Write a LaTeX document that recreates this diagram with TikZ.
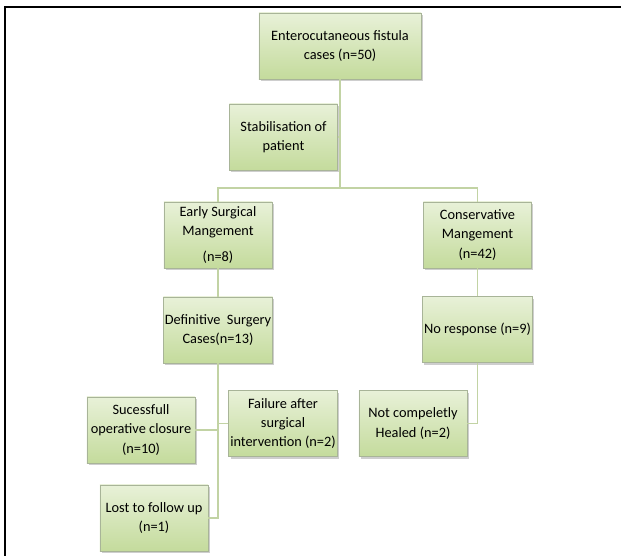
\documentclass[tikz,border=0pt]{standalone}
\usepackage{fontspec}
\setmainfont{Carlito}
\usetikzlibrary{shadows}

\definecolor{boxtop}{HTML}{E8F1D8}
\definecolor{boxbot}{HTML}{C4DB9C}
\definecolor{boxline}{HTML}{A8B498}
\definecolor{linkline}{HTML}{C2D3A4}

\tikzset{
  flowbox/.style={draw=boxline, line width=0.6pt, top color=boxtop, bottom color=boxbot,
    align=center, minimum width=2.7cm, minimum height=1.65cm, inner sep=1pt,
    font=\fontsize{10.2}{13.7}\selectfont, text=black,
    drop shadow={shadow xshift=1.2pt, shadow yshift=-1.5pt, opacity=0.35, fill=black!55}},
  link/.style={draw=linkline, line width=1.3pt}
}

\begin{document}
\begin{tikzpicture}[x=0.025cm, y=-0.025cm]
        \useasboundingbox (0,0) rectangle (621,556);

        % Frame
        \draw[line width=1.5pt] (5,556) -- (5,7) -- (621,7);

        % Top Nodes
        \node[flowbox, minimum width=4.05cm] (cases) at (340,46) {Enterocutaneous fistula\\cases (n=50)};
        \node[flowbox] (stab) at (283.5,137) {Stabilisation of\\patient};

        % Management Nodes
        \node[flowbox] (early) at (218,235) {Early Surgical\\Mangement\\[5pt](n=8)};
        \node[flowbox] (cons) at (477.5,235) {Conservative\\Mangement\\(n=42)};
        \node[flowbox] (defin) at (218,330) {Definitive~ Surgery\\Cases(n=13)};
        \node[flowbox] (noresp) at (477.5,329.5) {No response (n=9)};

        % Outcome Nodes
        \node[flowbox] (succ) at (141,430) {Sucessfull\\operative closure\\(n=10)};
        \node[flowbox] (fail) at (283,423.5) {Failure after\\surgical\\intervention (n=2)};
        \node[flowbox] (notheal) at (413,423.5) {Not compeletly\\Healed (n=2)};
        \node[flowbox] (lost) at (154,518) {Lost to follow up\\(n=1)};

        % Links
        \coordinate (hub) at (340,188);
        \draw[link] (cases.south) -- (hub);
        \draw[link] (stab.east) -- (stab.east -| hub);
        \draw[link] (early.north) |- (hub) -| (cons.north);
        \draw[link] (early.south) -- (defin.north);
        \draw[link] (cons.south) -- (noresp.north);
        \draw[link] (defin.south) |- (lost.east);
        \draw[link] (succ.east) -- (succ.east -| defin.south);
        \draw[link] (fail.west) -- (fail.west -| defin.south);
        \draw[link] (noresp.south) |- (notheal.east);
    \end{tikzpicture}
\end{document}
